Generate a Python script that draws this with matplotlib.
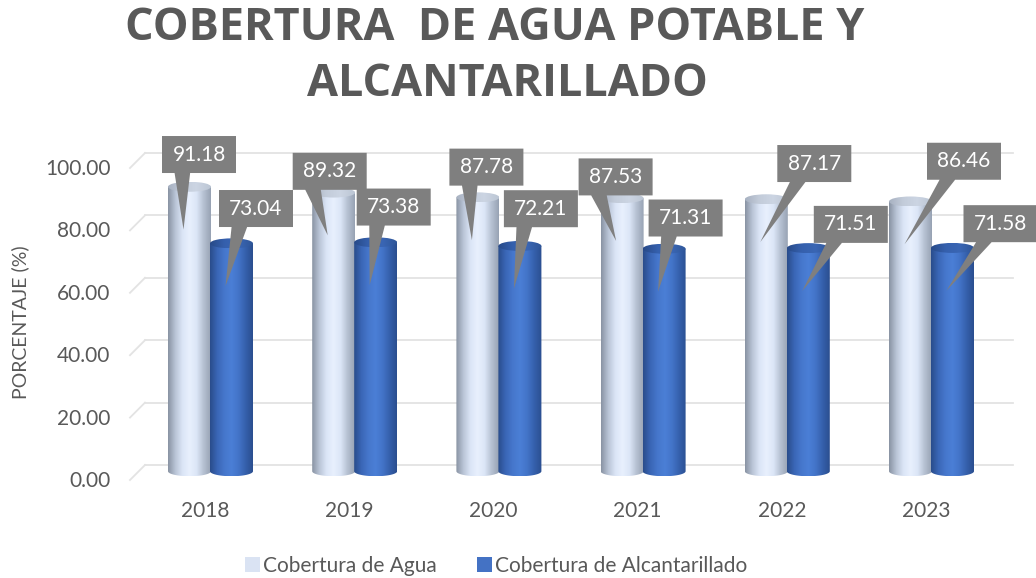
import numpy as np
import matplotlib
matplotlib.use("Agg")
import matplotlib.pyplot as plt
from matplotlib.patches import PathPatch, Ellipse, Polygon, Rectangle
from matplotlib.path import Path
from matplotlib.colors import to_rgb
from matplotlib.transforms import ScaledTranslation

# ---------------- data ----------------
years = ["2018", "2019", "2020", "2021", "2022", "2023"]
agua = [91.18, 89.32, 87.78, 87.53, 87.17, 86.46]
alcantarillado = [73.04, 73.38, 72.21, 71.31, 71.51, 71.58]
yticks = [0, 20, 40, 60, 80, 100]
series_names = ["Cobertura de Agua", "Cobertura de Alcantarillado"]
title_lines = ["COBERTURA  DE AGUA POTABLE Y", "ALCANTARILLADO"]
ylabel = "PORCENTAJE (%)"

# ---------------- layout / style ----------------
W, H = 1036, 578
GRAY = "#595959"
BOX = "#7f7f7f"
FONT = "Lato"

# label box offsets (pixels, right / down) relative to bar top
agua_lbl_off = [(9.5, -26), (-4, -15), (8.5, -24), (-6.5, -15), (48, -29.5), (53.5, -34)]
alc_lbl_off = [(24.5, -28.6), (18, -29), (21, -31), (21.5, -24.5), (42.5, -17.5), (48, -18)]
tip_off = (-6, 49)

agua_grad = ["#8a94a4", "#b9c4d6", "#dbe5f6", "#e8f0fd", "#dce6f7", "#b6c1d2", "#98a3b4"]
alc_grad = ["#2a4d8c", "#3a66b6", "#4677cc", "#4b7fd6", "#4374c8", "#3560ac", "#2b4f90"]
agua_top = ["#a7b1c1", "#c3ccda", "#ccd5e3", "#bcc6d4"]
alc_top = ["#284a88", "#3560ad", "#3a66b4", "#2f5698"]

fig = plt.figure(figsize=(W / 100, H / 100), dpi=100)
fig.patch.set_facecolor("white")

# axes: back-wall grid from x=145..1013 px, 0 at y=465, 100 at y=153
ppu = 3.12  # pixels per data unit (y)
ylo, yhi = -4.0, 105.0
y0pix = 465 + (0 - ylo) * ppu
ax_h = (yhi - ylo) * ppu
left_px, right_px = 145, 1013
cat_px = 144.2
cat0_px = 205
ax = fig.add_axes([left_px / W, (H - y0pix) / H, (right_px - left_px) / W, ax_h / H])
xlo = -(cat0_px - left_px) / cat_px
xhi = (right_px - cat0_px) / cat_px

for s in ax.spines.values():
    s.set_visible(False)
ax.set_facecolor("none")

# gridlines with perspective stub
grid_c = "#e3e3e3"
for v in yticks:
    ax.plot([xlo, xhi], [v, v], color=grid_c, lw=1.3, zorder=0, clip_on=False)
    ax.plot([xlo - 15 / cat_px, xlo], [v - 15 / ppu, v], color=grid_c, lw=1.3,
            zorder=0, clip_on=False)

bar_w = 43 / cat_px
off_a = -15.5 / cat_px
off_b = 26.5 / cat_px
shift = -2.0          # cylinder drawn slightly in front (lower) of the back wall
eh = 5 / ppu          # ellipse half-height in data units


def grad_img(colors, n=64):
    cols = np.array([to_rgb(c) for c in colors])
    xs = np.linspace(0, 1, len(colors))
    t = np.linspace(0, 1, n)
    img = np.stack([np.interp(t, xs, cols[:, k]) for k in range(3)], axis=-1)
    return img[None, :, :]


def cylinder(c, v, body_cols, top_cols, z):
    hw = bar_w / 2
    yb = shift
    yt = v + shift
    th = np.linspace(np.pi, 2 * np.pi, 40)
    verts = [(c - hw, yt), (c - hw, yb)]
    verts += [(c + hw * np.cos(t), yb + eh * np.sin(t)) for t in th]
    verts += [(c + hw, yt), (c - hw, yt)]
    path = Path(verts, closed=True)
    clip = PathPatch(path, transform=ax.transData, facecolor="none", edgecolor="none")
    ax.add_patch(clip)
    im = ax.imshow(grad_img(body_cols), extent=(c - hw, c + hw, yb - eh, yt + eh),
                   aspect="auto", interpolation="bilinear", zorder=z)
    im.set_clip_path(clip)
    el = Ellipse((c, yt), 2 * hw, 2 * eh, transform=ax.transData,
                 facecolor="none", edgecolor="none")
    ax.add_patch(el)
    im2 = ax.imshow(grad_img(top_cols), extent=(c - hw, c + hw, yt - eh, yt + eh),
                    aspect="auto", interpolation="bilinear", zorder=z + 0.5)
    im2.set_clip_path(el)


for i in range(len(years)):
    cylinder(i + off_a, agua[i], agua_grad, agua_top, 2 + i * 0.01)
    cylinder(i + off_b, alcantarillado[i], alc_grad, alc_top, 3 + i * 0.01)

ax.set_xlim(xlo, xhi)
ax.set_ylim(ylo, yhi)

# ticks
ax.set_yticks(yticks)
ax.set_yticklabels([f"{v:.2f}" for v in yticks], fontsize=15, color=GRAY, family=FONT)
ax.tick_params(axis="y", length=0, pad=25)
for lab in ax.get_yticklabels():
    lab.set_transform(lab.get_transform() + ScaledTranslation(0, -14 / 100, fig.dpi_scale_trans))
ax.set_xticks(range(len(years)))
ax.set_xticklabels(years, fontsize=15, color=GRAY, family=FONT)
ax.tick_params(axis="x", length=0, pad=17)

fig.text(20 / W, 1 - 322 / H, ylabel, rotation=90, ha="center", va="center",
         fontsize=14, color=GRAY, family=FONT)

title_pos = [(495, 29), (507, 84)]
for line, (tx, ty) in zip(title_lines, title_pos):
    fig.text(tx / W, 1 - ty / H, line, ha="center", va="center", fontsize=32.4,
             fontweight="bold", color=GRAY, family="Open Sans")

# data callouts
fig.canvas.draw()
bw, bh = 74, 37


def callout(x, v, s, off):
    dx, dy = ax.transData.transform((x, v))
    px, py = dx, H - dy  # image coords (y down)
    cx, cy = px + off[0], py + off[1]
    x0, x1 = cx - bw / 2, cx + bw / 2
    y0, y1 = cy - bh / 2, cy + bh / 2
    tx, ty = px + tip_off[0], py + tip_off[1]
    b0, b1 = x0 + 0.17 * bw, x0 + 0.38 * bw
    pts = [(x0, y0), (x1, y0), (x1, y1), (b1, y1), (tx, ty), (b0, y1), (x0, y1)]
    pts = [(a / W, 1 - b / H) for a, b in pts]
    fig.add_artist(Polygon(pts, closed=True, transform=fig.transFigure,
                           facecolor=BOX, edgecolor="none", zorder=10))
    fig.text(cx / W, 1 - cy / H, s, ha="center", va="center", fontsize=15,
             color="white", family=FONT, zorder=11)


for i in range(len(years)):
    callout(i + off_a, agua[i], f"{agua[i]:.2f}", agua_lbl_off[i])
    callout(i + off_b, alcantarillado[i], f"{alcantarillado[i]:.2f}", alc_lbl_off[i])

# legend
handles = [Rectangle((0, 0), 1, 1, facecolor="#dae3f3", edgecolor="none"),
           Rectangle((0, 0), 1, 1, facecolor="#4472c4", edgecolor="none")]
leg = fig.legend(handles, series_names, loc="center", bbox_to_anchor=(496 / W, 1 - 566 / H),
                 ncol=2, frameon=False, handlelength=0.72, handleheight=0.72,
                 handletextpad=0.15, columnspacing=1.9, prop={"family": FONT, "size": 15})
for t in leg.get_texts():
    t.set_color(GRAY)

fig.savefig("out.png", dpi=100)
